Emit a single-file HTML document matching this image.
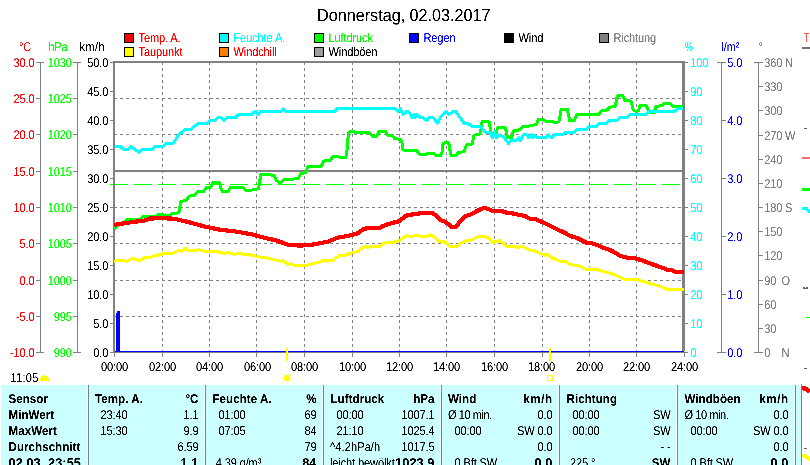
<!DOCTYPE html>
<html><head><meta charset="utf-8"><title>Wetter</title>
<style>
html,body{margin:0;padding:0;background:#fff;}
body{width:810px;height:465px;overflow:hidden;position:relative;}
svg{position:absolute;left:0;top:0;display:block;}
svg text{font-family:"Liberation Sans",sans-serif;}
</style></head><body>
<svg width="810" height="465" viewBox="0 0 810 465" shape-rendering="crispEdges" text-rendering="geometricPrecision">
<defs>
<clipPath id="plotclip"><rect x="114" y="63" width="570" height="288"/></clipPath>
<clipPath id="plotclip2"><rect x="114" y="63" width="570" height="288"/></clipPath>
<filter id="thr" filterUnits="userSpaceOnUse" x="0" y="0" width="810" height="465" color-interpolation-filters="sRGB"><feComponentTransfer><feFuncA type="linear" slope="2.5" intercept="-0.6"/></feComponentTransfer></filter>
</defs>
<rect x="0" y="0" width="810" height="465" fill="#ffffff"/>
<rect x="124" y="33" width="10" height="10" fill="#000" />
<rect x="125" y="34" width="8" height="8" fill="#ff0000" />
<rect x="124" y="47" width="10" height="10" fill="#000" />
<rect x="125" y="48" width="8" height="8" fill="#ffff00" />
<rect x="219" y="33" width="10" height="10" fill="#000" />
<rect x="220" y="34" width="8" height="8" fill="#00ffff" />
<rect x="219" y="47" width="10" height="10" fill="#000" />
<rect x="220" y="48" width="8" height="8" fill="#ff8000" />
<rect x="314" y="33" width="10" height="10" fill="#000" />
<rect x="315" y="34" width="8" height="8" fill="#00ff00" />
<rect x="314" y="47" width="10" height="10" fill="#000" />
<rect x="315" y="48" width="8" height="8" fill="#a09ca0" />
<rect x="409" y="33" width="10" height="10" fill="#000" />
<rect x="410" y="34" width="8" height="8" fill="#0000ff" />
<rect x="504" y="33" width="10" height="10" fill="#000" />
<rect x="505" y="34" width="8" height="8" fill="#000000" />
<rect x="599" y="33" width="10" height="10" fill="#000" />
<rect x="600" y="34" width="8" height="8" fill="#808080" />
<rect x="40" y="62" width="1" height="291" fill="#808080" />
<rect x="36" y="62" width="8" height="1" fill="#808080" />
<rect x="36" y="98" width="5" height="1" fill="#808080" />
<rect x="36" y="134" width="5" height="1" fill="#808080" />
<rect x="36" y="171" width="5" height="1" fill="#808080" />
<rect x="36" y="207" width="5" height="1" fill="#808080" />
<rect x="36" y="243" width="5" height="1" fill="#808080" />
<rect x="36" y="280" width="5" height="1" fill="#808080" />
<rect x="36" y="316" width="5" height="1" fill="#808080" />
<rect x="36" y="352" width="8" height="1" fill="#808080" />
<rect x="77" y="62" width="1" height="291" fill="#808080" />
<rect x="73" y="62" width="8" height="1" fill="#808080" />
<rect x="73" y="98" width="5" height="1" fill="#808080" />
<rect x="73" y="134" width="5" height="1" fill="#808080" />
<rect x="73" y="171" width="5" height="1" fill="#808080" />
<rect x="73" y="207" width="5" height="1" fill="#808080" />
<rect x="73" y="243" width="5" height="1" fill="#808080" />
<rect x="73" y="280" width="5" height="1" fill="#808080" />
<rect x="73" y="316" width="5" height="1" fill="#808080" />
<rect x="73" y="352" width="8" height="1" fill="#808080" />
<rect x="110" y="62" width="3" height="1" fill="#808080" />
<rect x="110" y="91" width="3" height="1" fill="#808080" />
<rect x="110" y="120" width="3" height="1" fill="#808080" />
<rect x="110" y="149" width="3" height="1" fill="#808080" />
<rect x="110" y="178" width="3" height="1" fill="#808080" />
<rect x="110" y="207" width="3" height="1" fill="#808080" />
<rect x="110" y="236" width="3" height="1" fill="#808080" />
<rect x="110" y="265" width="3" height="1" fill="#808080" />
<rect x="110" y="294" width="3" height="1" fill="#808080" />
<rect x="110" y="323" width="3" height="1" fill="#808080" />
<rect x="110" y="352" width="3" height="1" fill="#808080" />
<path d="M162.5,62 V351" stroke="#808080" stroke-width="1" stroke-dasharray="3,3" fill="none"/>
<path d="M209.5,62 V351" stroke="#808080" stroke-width="1" stroke-dasharray="3,3" fill="none"/>
<path d="M256.5,62 V351" stroke="#808080" stroke-width="1" stroke-dasharray="3,3" fill="none"/>
<path d="M304.5,62 V351" stroke="#808080" stroke-width="1" stroke-dasharray="3,3" fill="none"/>
<path d="M352.5,62 V351" stroke="#808080" stroke-width="1" stroke-dasharray="3,3" fill="none"/>
<path d="M399.5,62 V351" stroke="#808080" stroke-width="1" stroke-dasharray="3,3" fill="none"/>
<path d="M446.5,62 V351" stroke="#808080" stroke-width="1" stroke-dasharray="3,3" fill="none"/>
<path d="M494.5,62 V351" stroke="#808080" stroke-width="1" stroke-dasharray="3,3" fill="none"/>
<path d="M542.5,62 V351" stroke="#808080" stroke-width="1" stroke-dasharray="3,3" fill="none"/>
<path d="M589.5,62 V351" stroke="#808080" stroke-width="1" stroke-dasharray="3,3" fill="none"/>
<path d="M636.5,62 V351" stroke="#808080" stroke-width="1" stroke-dasharray="3,3" fill="none"/>
<path d="M115,98.5 H682" stroke="#808080" stroke-width="1" stroke-dasharray="3,3" stroke-dashoffset="1" fill="none"/>
<path d="M115,134.5 H682" stroke="#808080" stroke-width="1" stroke-dasharray="3,3" stroke-dashoffset="1" fill="none"/>
<path d="M115,207.5 H682" stroke="#808080" stroke-width="1" stroke-dasharray="3,3" stroke-dashoffset="1" fill="none"/>
<path d="M115,243.5 H682" stroke="#808080" stroke-width="1" stroke-dasharray="3,3" stroke-dashoffset="1" fill="none"/>
<path d="M115,280.5 H682" stroke="#808080" stroke-width="1" stroke-dasharray="3,3" stroke-dashoffset="1" fill="none"/>
<path d="M115,316.5 H682" stroke="#808080" stroke-width="1" stroke-dasharray="3,3" stroke-dashoffset="1" fill="none"/>
<rect x="115" y="170" width="567" height="2" fill="#808080" />
<path d="M110,184.5 H682" stroke="#00ff00" stroke-width="1" stroke-dasharray="18,6" fill="none"/>
<rect x="113" y="61" width="572" height="2" fill="#808080" />
<rect x="113" y="61" width="2" height="292" fill="#808080" />
<rect x="682" y="61" width="3" height="290" fill="#808080" />
<rect x="113" y="352" width="572" height="1" fill="#808080" />
<rect x="115" y="351" width="569" height="1" fill="#0000ff" />
<rect x="162" y="353" width="1" height="4" fill="#808080" />
<rect x="209" y="353" width="1" height="4" fill="#808080" />
<rect x="256" y="353" width="1" height="4" fill="#808080" />
<rect x="304" y="353" width="1" height="4" fill="#808080" />
<rect x="352" y="353" width="1" height="4" fill="#808080" />
<rect x="399" y="353" width="1" height="4" fill="#808080" />
<rect x="446" y="353" width="1" height="4" fill="#808080" />
<rect x="494" y="353" width="1" height="4" fill="#808080" />
<rect x="542" y="353" width="1" height="4" fill="#808080" />
<rect x="589" y="353" width="1" height="4" fill="#808080" />
<rect x="636" y="353" width="1" height="4" fill="#808080" />
<rect x="684" y="353" width="1" height="4" fill="#808080" />
<rect x="114" y="353" width="1" height="4" fill="#808080" />
<path d="M114.3,228.8 L117.7,226.2 L119.5,223.6 L124.6,221.9 L127.2,219.3 L140.1,219.0 L143.5,216.2 L155.6,216.2 L159.0,214.2 L162.4,214.2 L165.0,215.4 L170.2,215.4 L172.7,213.3 L178.8,212.9 L180.8,201.3 L186.5,200.4 L189.1,196.1 L194.2,195.6 L197.7,191.8 L203.7,191.3 L206.3,187.8 L210.6,187.2 L213.1,182.3 L219.2,182.3 L220.9,188.4 L222.6,191.8 L226.9,191.8 L228.4,191.3 L230.2,187.5 L242.2,187.2 L246.5,190.6 L250.8,190.6 L253.4,189.2 L258.5,188.9 L260.8,174.6 L266.3,174.1 L274.0,175.5 L276.6,180.6 L280.0,183.2 L284.3,179.3 L298.1,178.9 L300.6,173.8 L305.8,172.4 L307.7,166.7 L321.3,166.2 L323.9,161.0 L330.3,160.3 L332.9,156.8 L338.7,156.8 L340.6,157.7 L345.8,157.4 L347.1,149.7 L348.4,132.9 L349.7,131.6 L354.2,131.6 L355.5,132.5 L369.0,132.5 L372.3,136.1 L376.8,136.1 L379.4,131.0 L385.2,131.0 L387.7,135.2 L392.0,135.4 L394.7,138.7 L400.7,139.3 L402.0,142.7 L402.9,150.0 L416.7,150.3 L419.3,154.2 L426.0,154.2 L428.0,153.1 L433.3,153.3 L436.7,156.0 L440.7,155.8 L442.0,152.0 L442.7,144.7 L444.0,142.9 L448.3,142.9 L449.6,145.3 L450.3,154.0 L452.0,156.0 L456.0,155.8 L458.0,152.6 L464.0,151.7 L466.3,145.0 L472.3,143.9 L473.9,135.2 L479.7,134.1 L480.9,130.6 L481.7,122.4 L482.8,121.2 L487.9,121.2 L489.4,122.4 L490.2,128.6 L491.0,133.0 L496.8,133.0 L497.2,127.9 L498.3,127.0 L504.1,127.0 L505.7,128.6 L506.8,135.2 L508.4,137.9 L511.5,137.9 L512.6,132.9 L514.2,130.6 L518.4,130.2 L520.8,128.6 L522.8,126.9 L528.8,126.1 L531.8,125.4 L536.3,124.6 L538.6,119.4 L542.3,119.1 L545.4,121.2 L551.4,121.3 L554.4,122.4 L558.9,121.9 L561.2,109.6 L567.2,109.1 L569.8,120.9 L574.5,120.4 L576.8,114.9 L598.6,114.6 L601.6,110.6 L606.9,110.1 L609.9,107.1 L615.2,106.4 L617.4,95.8 L622.7,95.5 L625.0,100.3 L631.0,101.1 L633.3,110.1 L636.3,111.6 L638.5,110.9 L640.0,105.6 L646.1,105.3 L648.0,109.4 L649.8,112.4 L654.3,112.4 L655.8,106.4 L661.9,105.6 L664.9,103.3 L670.2,103.3 L673.2,106.8 L683.0,106.8" fill="none" stroke="#00ff00" stroke-width="3" stroke-linejoin="round" stroke-linecap="butt" clip-path="url(#plotclip)"/>
<path d="M114.3,228.8 L117.7,226.2 L119.5,223.6 L124.6,221.9 L127.2,219.3 L140.1,219.0 L143.5,216.2 L155.6,216.2 L159.0,214.2 L162.4,214.2 L165.0,215.4 L170.2,215.4 L172.7,213.3 L178.8,212.9 L180.8,201.3 L186.5,200.4 L189.1,196.1 L194.2,195.6 L197.7,191.8 L203.7,191.3 L206.3,187.8 L210.6,187.2 L213.1,182.3 L219.2,182.3 L220.9,188.4 L222.6,191.8 L226.9,191.8 L228.4,191.3 L230.2,187.5 L242.2,187.2 L246.5,190.6 L250.8,190.6 L253.4,189.2 L258.5,188.9 L260.8,174.6 L266.3,174.1 L274.0,175.5 L276.6,180.6 L280.0,183.2 L284.3,179.3 L298.1,178.9 L300.6,173.8 L305.8,172.4 L307.7,166.7 L321.3,166.2 L323.9,161.0 L330.3,160.3 L332.9,156.8 L338.7,156.8 L340.6,157.7 L345.8,157.4 L347.1,149.7 L348.4,132.9 L349.7,131.6 L354.2,131.6 L355.5,132.5 L369.0,132.5 L372.3,136.1 L376.8,136.1 L379.4,131.0 L385.2,131.0 L387.7,135.2 L392.0,135.4 L394.7,138.7 L400.7,139.3 L402.0,142.7 L402.9,150.0 L416.7,150.3 L419.3,154.2 L426.0,154.2 L428.0,153.1 L433.3,153.3 L436.7,156.0 L440.7,155.8 L442.0,152.0 L442.7,144.7 L444.0,142.9 L448.3,142.9 L449.6,145.3 L450.3,154.0 L452.0,156.0 L456.0,155.8 L458.0,152.6 L464.0,151.7 L466.3,145.0 L472.3,143.9 L473.9,135.2 L479.7,134.1 L480.9,130.6 L481.7,122.4 L482.8,121.2 L487.9,121.2 L489.4,122.4 L490.2,128.6 L491.0,133.0 L496.8,133.0 L497.2,127.9 L498.3,127.0 L504.1,127.0 L505.7,128.6 L506.8,135.2 L508.4,137.9 L511.5,137.9 L512.6,132.9 L514.2,130.6 L518.4,130.2 L520.8,128.6 L522.8,126.9 L528.8,126.1 L531.8,125.4 L536.3,124.6 L538.6,119.4 L542.3,119.1 L545.4,121.2 L551.4,121.3 L554.4,122.4 L558.9,121.9 L561.2,109.6 L567.2,109.1 L569.8,120.9 L574.5,120.4 L576.8,114.9 L598.6,114.6 L601.6,110.6 L606.9,110.1 L609.9,107.1 L615.2,106.4 L617.4,95.8 L622.7,95.5 L625.0,100.3 L631.0,101.1 L633.3,110.1 L636.3,111.6 L638.5,110.9 L640.0,105.6 L646.1,105.3 L648.0,109.4 L649.8,112.4 L654.3,112.4 L655.8,106.4 L661.9,105.6 L664.9,103.3 L670.2,103.3 L673.2,106.8 L683.0,106.8" fill="none" stroke="#00ff00" stroke-width="1.6" stroke-linejoin="round" stroke-linecap="butt" shape-rendering="geometricPrecision" clip-path="url(#plotclip)"/>
<path d="M114.5,146.5 L120.5,146.5 L123.5,149.4 L128.0,149.4 L131.0,146.5 L134.8,149.4 L139.4,152.3 L142.4,149.4 L152.2,149.4 L155.2,146.5 L162.7,146.5 L166.5,143.6 L173.3,143.6 L178.5,134.9 L186.0,129.1 L191.3,129.1 L198.1,123.3 L207.1,123.3 L210.2,120.4 L215.4,120.4 L218.4,117.5 L221.4,117.5 L223.7,120.4 L226.7,117.5 L235.5,117.5 L238.6,114.6 L251.4,114.6 L254.4,111.7 L255.9,111.7 L258.1,114.6 L261.1,111.7 L280.7,111.7 L283.4,108.8 L286.7,111.7 L334.2,111.7 L337.2,108.8 L395.0,108.8 L398.0,111.7 L400.2,108.8 L403.3,114.6 L406.3,111.7 L408.5,111.7 L412.3,117.5 L413.8,114.6 L415.3,117.5 L417.1,114.6 L420.6,117.5 L422.8,117.5 L426.6,120.4 L429.6,117.5 L433.4,117.5 L437.6,123.3 L440.2,117.5 L446.2,111.7 L449.2,114.6 L453.0,111.7 L456.0,111.7 L458.0,114.6 L464.0,123.3 L467.8,123.3 L471.6,126.2 L480.1,126.2 L482.8,129.1 L484.8,132.0 L489.8,132.0 L492.5,137.8 L494.4,132.0 L496.4,137.8 L499.5,134.9 L504.5,137.8 L508.4,143.6 L510.7,140.7 L516.1,140.7 L518.4,137.8 L520.4,140.7 L523.5,134.9 L526.5,134.9 L528.8,137.8 L530.8,134.9 L532.3,137.8 L533.8,134.9 L537.1,137.8 L545.4,137.8 L548.7,134.9 L551.4,137.8 L554.4,134.9 L562.7,134.9 L565.7,132.0 L574.5,132.0 L577.5,129.1 L586.6,129.1 L589.6,126.2 L596.4,126.2 L599.4,123.3 L606.1,123.3 L609.5,120.4 L616.7,120.4 L620.5,117.5 L627.2,117.5 L630.2,114.6 L646.1,114.6 L649.1,111.7 L673.9,111.7 L677.7,108.8 L683.0,108.8" fill="none" stroke="#00ffff" stroke-width="3" stroke-linejoin="round" stroke-linecap="butt" clip-path="url(#plotclip)"/>
<path d="M114.5,146.5 L120.5,146.5 L123.5,149.4 L128.0,149.4 L131.0,146.5 L134.8,149.4 L139.4,152.3 L142.4,149.4 L152.2,149.4 L155.2,146.5 L162.7,146.5 L166.5,143.6 L173.3,143.6 L178.5,134.9 L186.0,129.1 L191.3,129.1 L198.1,123.3 L207.1,123.3 L210.2,120.4 L215.4,120.4 L218.4,117.5 L221.4,117.5 L223.7,120.4 L226.7,117.5 L235.5,117.5 L238.6,114.6 L251.4,114.6 L254.4,111.7 L255.9,111.7 L258.1,114.6 L261.1,111.7 L280.7,111.7 L283.4,108.8 L286.7,111.7 L334.2,111.7 L337.2,108.8 L395.0,108.8 L398.0,111.7 L400.2,108.8 L403.3,114.6 L406.3,111.7 L408.5,111.7 L412.3,117.5 L413.8,114.6 L415.3,117.5 L417.1,114.6 L420.6,117.5 L422.8,117.5 L426.6,120.4 L429.6,117.5 L433.4,117.5 L437.6,123.3 L440.2,117.5 L446.2,111.7 L449.2,114.6 L453.0,111.7 L456.0,111.7 L458.0,114.6 L464.0,123.3 L467.8,123.3 L471.6,126.2 L480.1,126.2 L482.8,129.1 L484.8,132.0 L489.8,132.0 L492.5,137.8 L494.4,132.0 L496.4,137.8 L499.5,134.9 L504.5,137.8 L508.4,143.6 L510.7,140.7 L516.1,140.7 L518.4,137.8 L520.4,140.7 L523.5,134.9 L526.5,134.9 L528.8,137.8 L530.8,134.9 L532.3,137.8 L533.8,134.9 L537.1,137.8 L545.4,137.8 L548.7,134.9 L551.4,137.8 L554.4,134.9 L562.7,134.9 L565.7,132.0 L574.5,132.0 L577.5,129.1 L586.6,129.1 L589.6,126.2 L596.4,126.2 L599.4,123.3 L606.1,123.3 L609.5,120.4 L616.7,120.4 L620.5,117.5 L627.2,117.5 L630.2,114.6 L646.1,114.6 L649.1,111.7 L673.9,111.7 L677.7,108.8 L683.0,108.8" fill="none" stroke="#00ffff" stroke-width="1.6" stroke-linejoin="round" stroke-linecap="butt" shape-rendering="geometricPrecision" clip-path="url(#plotclip)"/>
<path d="M114.3,261.2 L120.4,260.3 L127.3,261.2 L132.5,258.2 L139.4,260.7 L146.3,257.2 L151.5,257.2 L154.9,255.5 L160.1,254.8 L165.3,253.0 L172.2,253.4 L179.1,250.3 L181.7,251.3 L185.2,248.2 L187.8,250.3 L194.7,250.8 L198.1,249.6 L203.3,250.8 L205.9,252.0 L210.2,251.0 L217.2,251.7 L224.1,253.4 L227.5,252.5 L234.4,254.3 L239.6,253.4 L245.0,254.6 L251.9,255.1 L258.8,256.8 L267.5,258.1 L276.1,260.3 L280.4,261.2 L283.0,260.3 L288.2,264.6 L290.8,263.4 L295.1,265.5 L305.5,265.5 L314.1,263.4 L321.0,261.7 L324.5,260.3 L327.1,261.2 L333.1,260.3 L338.3,256.0 L345.2,255.1 L350.4,253.4 L357.3,251.7 L364.3,246.5 L367.7,247.3 L372.9,246.5 L378.9,247.0 L383.3,243.4 L386.9,242.5 L393.0,242.5 L399.0,240.8 L405.9,235.6 L411.1,237.0 L416.3,235.1 L421.5,236.5 L425.8,236.5 L430.1,234.8 L433.6,236.5 L438.8,241.3 L444.8,242.0 L450.0,246.3 L456.0,246.8 L460.4,243.4 L465.6,240.8 L469.9,240.8 L478.5,236.5 L483.7,236.5 L488.9,238.2 L493.2,242.5 L499.3,240.3 L507.9,246.8 L513.1,246.5 L518.6,247.3 L522.1,246.1 L529.0,249.9 L535.9,251.3 L544.6,255.1 L547.2,254.3 L553.2,258.6 L561.8,261.7 L565.3,261.2 L570.5,264.6 L579.1,265.8 L586.0,269.3 L589.5,269.0 L593.0,269.8 L598.1,269.8 L605.1,272.1 L611.2,273.5 L618.2,276.3 L625.2,279.5 L637.8,279.8 L644.8,281.9 L651.7,284.0 L658.7,285.6 L667.1,289.3 L683.6,289.3" fill="none" stroke="#ffff00" stroke-width="3" stroke-linejoin="round" stroke-linecap="butt" clip-path="url(#plotclip)"/>
<path d="M114.3,261.2 L120.4,260.3 L127.3,261.2 L132.5,258.2 L139.4,260.7 L146.3,257.2 L151.5,257.2 L154.9,255.5 L160.1,254.8 L165.3,253.0 L172.2,253.4 L179.1,250.3 L181.7,251.3 L185.2,248.2 L187.8,250.3 L194.7,250.8 L198.1,249.6 L203.3,250.8 L205.9,252.0 L210.2,251.0 L217.2,251.7 L224.1,253.4 L227.5,252.5 L234.4,254.3 L239.6,253.4 L245.0,254.6 L251.9,255.1 L258.8,256.8 L267.5,258.1 L276.1,260.3 L280.4,261.2 L283.0,260.3 L288.2,264.6 L290.8,263.4 L295.1,265.5 L305.5,265.5 L314.1,263.4 L321.0,261.7 L324.5,260.3 L327.1,261.2 L333.1,260.3 L338.3,256.0 L345.2,255.1 L350.4,253.4 L357.3,251.7 L364.3,246.5 L367.7,247.3 L372.9,246.5 L378.9,247.0 L383.3,243.4 L386.9,242.5 L393.0,242.5 L399.0,240.8 L405.9,235.6 L411.1,237.0 L416.3,235.1 L421.5,236.5 L425.8,236.5 L430.1,234.8 L433.6,236.5 L438.8,241.3 L444.8,242.0 L450.0,246.3 L456.0,246.8 L460.4,243.4 L465.6,240.8 L469.9,240.8 L478.5,236.5 L483.7,236.5 L488.9,238.2 L493.2,242.5 L499.3,240.3 L507.9,246.8 L513.1,246.5 L518.6,247.3 L522.1,246.1 L529.0,249.9 L535.9,251.3 L544.6,255.1 L547.2,254.3 L553.2,258.6 L561.8,261.7 L565.3,261.2 L570.5,264.6 L579.1,265.8 L586.0,269.3 L589.5,269.0 L593.0,269.8 L598.1,269.8 L605.1,272.1 L611.2,273.5 L618.2,276.3 L625.2,279.5 L637.8,279.8 L644.8,281.9 L651.7,284.0 L658.7,285.6 L667.1,289.3 L683.6,289.3" fill="none" stroke="#ffff00" stroke-width="1.6" stroke-linejoin="round" stroke-linecap="butt" shape-rendering="geometricPrecision" clip-path="url(#plotclip)"/>
<path d="M114.3,224.9 L120.3,223.9 L130.7,222.3 L144.6,220.6 L149.7,218.5 L161.6,218.2 L173.9,218.7 L187.8,221.9 L205.0,226.6 L218.9,229.5 L237.9,231.8 L251.9,234.4 L262.3,237.3 L276.1,240.4 L288.2,244.8 L300.3,245.6 L314.1,244.4 L328.0,241.6 L338.3,237.5 L348.7,235.8 L357.3,233.5 L364.3,228.7 L372.9,227.8 L378.9,228.3 L382.4,226.3 L388.6,223.9 L399.0,221.3 L405.9,215.7 L414.6,214.0 L424.9,212.8 L432.7,212.8 L440.5,220.1 L445.7,222.1 L451.7,227.0 L456.0,227.0 L460.4,220.9 L464.7,216.6 L471.6,214.0 L478.5,210.2 L483.7,208.0 L488.0,208.8 L492.3,210.9 L500.1,210.6 L506.2,212.6 L513.1,213.5 L525.6,216.2 L529.9,218.8 L535.9,219.2 L544.6,223.1 L553.2,227.5 L563.6,232.3 L570.5,236.1 L576.5,237.8 L586.0,242.5 L591.2,243.0 L599.0,245.6 L603.3,247.9 L610.2,249.9 L620.6,256.0 L627.5,257.7 L634.4,258.2 L643.1,260.7 L649.0,263.0 L655.9,265.5 L662.9,267.9 L667.1,269.7 L671.3,270.0 L675.5,272.1 L683.6,272.3" fill="none" stroke="#ff0000" stroke-width="4.2" stroke-linejoin="round" stroke-linecap="butt" clip-path="url(#plotclip2)"/>
<path d="M114.3,224.9 L120.3,223.9 L130.7,222.3 L144.6,220.6 L149.7,218.5 L161.6,218.2 L173.9,218.7 L187.8,221.9 L205.0,226.6 L218.9,229.5 L237.9,231.8 L251.9,234.4 L262.3,237.3 L276.1,240.4 L288.2,244.8 L300.3,245.6 L314.1,244.4 L328.0,241.6 L338.3,237.5 L348.7,235.8 L357.3,233.5 L364.3,228.7 L372.9,227.8 L378.9,228.3 L382.4,226.3 L388.6,223.9 L399.0,221.3 L405.9,215.7 L414.6,214.0 L424.9,212.8 L432.7,212.8 L440.5,220.1 L445.7,222.1 L451.7,227.0 L456.0,227.0 L460.4,220.9 L464.7,216.6 L471.6,214.0 L478.5,210.2 L483.7,208.0 L488.0,208.8 L492.3,210.9 L500.1,210.6 L506.2,212.6 L513.1,213.5 L525.6,216.2 L529.9,218.8 L535.9,219.2 L544.6,223.1 L553.2,227.5 L563.6,232.3 L570.5,236.1 L576.5,237.8 L586.0,242.5 L591.2,243.0 L599.0,245.6 L603.3,247.9 L610.2,249.9 L620.6,256.0 L627.5,257.7 L634.4,258.2 L643.1,260.7 L649.0,263.0 L655.9,265.5 L662.9,267.9 L667.1,269.7 L671.3,270.0 L675.5,272.1 L683.6,272.3" fill="none" stroke="#ff0000" stroke-width="2.8" stroke-linejoin="round" stroke-linecap="butt" shape-rendering="geometricPrecision" clip-path="url(#plotclip2)"/>
<rect x="116" y="313" width="1" height="39" fill="#0000ff" />
<rect x="117" y="311" width="3" height="41" fill="#0000ff" />
<rect x="685" y="62" width="3" height="1" fill="#808080" />
<rect x="685" y="91" width="3" height="1" fill="#808080" />
<rect x="685" y="120" width="3" height="1" fill="#808080" />
<rect x="685" y="149" width="3" height="1" fill="#808080" />
<rect x="685" y="178" width="3" height="1" fill="#808080" />
<rect x="685" y="207" width="3" height="1" fill="#808080" />
<rect x="685" y="236" width="3" height="1" fill="#808080" />
<rect x="685" y="265" width="3" height="1" fill="#808080" />
<rect x="685" y="294" width="3" height="1" fill="#808080" />
<rect x="685" y="323" width="3" height="1" fill="#808080" />
<rect x="685" y="352" width="3" height="1" fill="#808080" />
<rect x="721" y="62" width="1" height="291" fill="#808080" />
<rect x="717" y="62" width="9" height="1" fill="#808080" />
<rect x="721" y="120" width="5" height="1" fill="#808080" />
<rect x="721" y="178" width="5" height="1" fill="#808080" />
<rect x="721" y="236" width="5" height="1" fill="#808080" />
<rect x="721" y="294" width="5" height="1" fill="#808080" />
<rect x="717" y="352" width="9" height="1" fill="#808080" />
<rect x="758" y="62" width="1" height="291" fill="#808080" />
<rect x="754" y="62" width="9" height="1" fill="#808080" />
<rect x="758" y="86" width="5" height="1" fill="#808080" />
<rect x="758" y="110" width="5" height="1" fill="#808080" />
<rect x="758" y="135" width="5" height="1" fill="#808080" />
<rect x="758" y="159" width="5" height="1" fill="#808080" />
<rect x="758" y="183" width="5" height="1" fill="#808080" />
<rect x="758" y="207" width="5" height="1" fill="#808080" />
<rect x="758" y="231" width="5" height="1" fill="#808080" />
<rect x="758" y="255" width="5" height="1" fill="#808080" />
<rect x="758" y="280" width="5" height="1" fill="#808080" />
<rect x="758" y="304" width="5" height="1" fill="#808080" />
<rect x="758" y="328" width="5" height="1" fill="#808080" />
<rect x="754" y="352" width="9" height="1" fill="#808080" />
<rect x="43" y="375" width="3" height="1" fill="#ffff00" />
<rect x="41" y="376" width="7" height="2" fill="#ffff00" />
<rect x="40" y="378" width="9" height="3" fill="#ffff00" />
<rect x="42" y="379" width="1" height="1" fill="#ffd800" />
<rect x="45" y="378" width="1" height="1" fill="#ffd800" />
<rect x="286" y="348" width="2" height="13" fill="#ffff00" />
<g stroke="#ffff90" stroke-width="1" fill="none"><path d="M282,373 L292,383 M292,373 L282,383 M287,372 V384 M281,378 H293"/></g>
<rect x="285" y="375" width="4" height="6" fill="#ffff00" />
<rect x="284" y="376" width="6" height="4" fill="#ffff00" />
<rect x="549" y="348" width="2" height="13" fill="#ffff00" />
<rect x="547.5" y="375.5" width="5" height="5" fill="none" stroke="#ffff00" stroke-width="1"/>
<rect x="1" y="385" width="800" height="80" fill="#ccffff" />
<rect x="87" y="385" width="1" height="81" fill="#f2ffff" />
<rect x="88" y="385" width="1" height="81" fill="#808080" />
<rect x="204" y="385" width="1" height="81" fill="#f2ffff" />
<rect x="205" y="385" width="1" height="81" fill="#808080" />
<rect x="322" y="385" width="1" height="81" fill="#f2ffff" />
<rect x="323" y="385" width="1" height="81" fill="#808080" />
<rect x="440" y="385" width="1" height="81" fill="#f2ffff" />
<rect x="441" y="385" width="1" height="81" fill="#808080" />
<rect x="558" y="385" width="1" height="81" fill="#f2ffff" />
<rect x="559" y="385" width="1" height="81" fill="#808080" />
<rect x="676" y="385" width="1" height="81" fill="#f2ffff" />
<rect x="677" y="385" width="1" height="81" fill="#808080" />
<rect x="794" y="385" width="1" height="81" fill="#f2ffff" />
<rect x="795" y="385" width="1" height="81" fill="#808080" />
<rect x="802" y="47" width="8" height="2" fill="#707070" />
<rect x="804" y="128" width="3" height="1" fill="#606060" />
<rect x="802" y="157" width="8" height="2" fill="#ff6e6e" />
<rect x="802" y="188" width="8" height="3" fill="#00ff00" />
<path d="M802,208.5 H806.5 L810,212.5" stroke="#00ffff" stroke-width="3" fill="none"/>
<rect x="803" y="287" width="2" height="2" fill="#606060" />
<rect x="806" y="287" width="2" height="2" fill="#606060" />
<rect x="805" y="288" width="1" height="1" fill="#606060" />
<rect x="806" y="317" width="5" height="1" fill="#00ff00" />
<rect x="804" y="368" width="3" height="1" fill="#606060" />
<rect x="801" y="384" width="1" height="82" fill="#808080" />
<path d="M802,388.2 L805.5,388.5 L810,391.8" stroke="#ff0000" stroke-width="4.4" fill="none"/>
<rect x="804" y="448" width="3" height="1" fill="#606060" />
<path d="M802,454.8 L805,456 L807,457.5 L810,459.5" stroke="#ffff00" stroke-width="3.5" fill="none"/>
<g filter="url(#thr)">
<text transform="translate(403.8,21) scale(0.93,1)" fill="#000" text-anchor="middle" font-size="17.4" letter-spacing="0.000" >Donnerstag, 02.03.2017</text>
<text transform="translate(138.5,42) scale(0.87,1)" fill="#ff0000" text-anchor="start" font-size="12.7" letter-spacing="-0.138" >Temp. A.</text>
<text transform="translate(138.5,56) scale(0.87,1)" fill="#ff0000" text-anchor="start" font-size="12.7" letter-spacing="-0.138" >Taupunkt</text>
<text transform="translate(233.5,42) scale(0.87,1)" fill="#00ffff" text-anchor="start" font-size="12.7" letter-spacing="-0.138" >Feuchte A.</text>
<text transform="translate(233.5,56) scale(0.87,1)" fill="#ff0000" text-anchor="start" font-size="12.7" letter-spacing="-0.138" >Windchill</text>
<text transform="translate(328.5,42) scale(0.87,1)" fill="#00ff00" text-anchor="start" font-size="12.7" letter-spacing="-0.138" >Luftdruck</text>
<text transform="translate(328.5,56) scale(0.87,1)" fill="#000000" text-anchor="start" font-size="12.7" letter-spacing="-0.138" >Windböen</text>
<text transform="translate(423.5,42) scale(0.87,1)" fill="#0000ff" text-anchor="start" font-size="12.7" letter-spacing="-0.138" >Regen</text>
<text transform="translate(518.5,42) scale(0.87,1)" fill="#000000" text-anchor="start" font-size="12.7" letter-spacing="-0.138" >Wind</text>
<text transform="translate(613.5,42) scale(0.87,1)" fill="#808080" text-anchor="start" font-size="12.7" letter-spacing="-0.138" >Richtung</text>
<text transform="translate(19,51) scale(0.87,1)" fill="#ff0000" text-anchor="start" font-size="12.7" letter-spacing="-0.138" >°C</text>
<text transform="translate(48.3,51) scale(0.87,1)" fill="#00ff00" text-anchor="start" font-size="12.7" letter-spacing="-0.138" >hPa</text>
<text transform="translate(79.5,51) scale(0.87,1)" fill="#000" text-anchor="start" font-size="12.7" letter-spacing="0.460" >km/h</text>
<text transform="translate(685,51) scale(0.7,1)" fill="#00ffff" text-anchor="start" font-size="12.7" letter-spacing="-0.171" >%</text>
<text transform="translate(721.5,51) scale(0.87,1)" fill="#0000ff" text-anchor="start" font-size="12.7" letter-spacing="-0.138" >l/m²</text>
<text transform="translate(758.5,51) scale(0.87,1)" fill="#808080" text-anchor="start" font-size="12.7" letter-spacing="-0.138" >°</text>
<text transform="translate(34.4,67) scale(0.87,1)" fill="#ff0000" text-anchor="end" font-size="12.7" letter-spacing="-0.161" >30.0</text>
<text transform="translate(34.4,103) scale(0.87,1)" fill="#ff0000" text-anchor="end" font-size="12.7" letter-spacing="-0.161" >25.0</text>
<text transform="translate(34.4,139) scale(0.87,1)" fill="#ff0000" text-anchor="end" font-size="12.7" letter-spacing="-0.161" >20.0</text>
<text transform="translate(34.4,176) scale(0.87,1)" fill="#ff0000" text-anchor="end" font-size="12.7" letter-spacing="-0.161" >15.0</text>
<text transform="translate(34.4,212) scale(0.87,1)" fill="#ff0000" text-anchor="end" font-size="12.7" letter-spacing="-0.161" >10.0</text>
<text transform="translate(34.4,248) scale(0.87,1)" fill="#ff0000" text-anchor="end" font-size="12.7" letter-spacing="-0.161" >5.0</text>
<text transform="translate(34.4,285) scale(0.87,1)" fill="#ff0000" text-anchor="end" font-size="12.7" letter-spacing="-0.161" >0.0</text>
<text transform="translate(34.4,321) scale(0.87,1)" fill="#ff0000" text-anchor="end" font-size="12.7" letter-spacing="-0.161" >-5.0</text>
<text transform="translate(34.4,357) scale(0.87,1)" fill="#ff0000" text-anchor="end" font-size="12.7" letter-spacing="-0.161" >-10.0</text>
<text transform="translate(71.7,67) scale(0.87,1)" fill="#00ff00" text-anchor="end" font-size="12.7" letter-spacing="-0.161" >1030</text>
<text transform="translate(71.7,103) scale(0.87,1)" fill="#00ff00" text-anchor="end" font-size="12.7" letter-spacing="-0.161" >1025</text>
<text transform="translate(71.7,139) scale(0.87,1)" fill="#00ff00" text-anchor="end" font-size="12.7" letter-spacing="-0.161" >1020</text>
<text transform="translate(71.7,176) scale(0.87,1)" fill="#00ff00" text-anchor="end" font-size="12.7" letter-spacing="-0.161" >1015</text>
<text transform="translate(71.7,212) scale(0.87,1)" fill="#00ff00" text-anchor="end" font-size="12.7" letter-spacing="-0.161" >1010</text>
<text transform="translate(71.7,248) scale(0.87,1)" fill="#00ff00" text-anchor="end" font-size="12.7" letter-spacing="-0.161" >1005</text>
<text transform="translate(71.7,285) scale(0.87,1)" fill="#00ff00" text-anchor="end" font-size="12.7" letter-spacing="-0.161" >1000</text>
<text transform="translate(71.7,321) scale(0.87,1)" fill="#00ff00" text-anchor="end" font-size="12.7" letter-spacing="-0.161" >995</text>
<text transform="translate(71.7,357) scale(0.87,1)" fill="#00ff00" text-anchor="end" font-size="12.7" letter-spacing="-0.161" >990</text>
<text transform="translate(108.2,67) scale(0.87,1)" fill="#000" text-anchor="end" font-size="12.7" letter-spacing="-0.161" >50.0</text>
<text transform="translate(108.2,96) scale(0.87,1)" fill="#000" text-anchor="end" font-size="12.7" letter-spacing="-0.161" >45.0</text>
<text transform="translate(108.2,125) scale(0.87,1)" fill="#000" text-anchor="end" font-size="12.7" letter-spacing="-0.161" >40.0</text>
<text transform="translate(108.2,154) scale(0.87,1)" fill="#000" text-anchor="end" font-size="12.7" letter-spacing="-0.161" >35.0</text>
<text transform="translate(108.2,183) scale(0.87,1)" fill="#000" text-anchor="end" font-size="12.7" letter-spacing="-0.161" >30.0</text>
<text transform="translate(108.2,212) scale(0.87,1)" fill="#000" text-anchor="end" font-size="12.7" letter-spacing="-0.161" >25.0</text>
<text transform="translate(108.2,241) scale(0.87,1)" fill="#000" text-anchor="end" font-size="12.7" letter-spacing="-0.161" >20.0</text>
<text transform="translate(108.2,270) scale(0.87,1)" fill="#000" text-anchor="end" font-size="12.7" letter-spacing="-0.161" >15.0</text>
<text transform="translate(108.2,299) scale(0.87,1)" fill="#000" text-anchor="end" font-size="12.7" letter-spacing="-0.161" >10.0</text>
<text transform="translate(108.2,328) scale(0.87,1)" fill="#000" text-anchor="end" font-size="12.7" letter-spacing="-0.161" >5.0</text>
<text transform="translate(108.2,357) scale(0.87,1)" fill="#000" text-anchor="end" font-size="12.7" letter-spacing="-0.161" >0.0</text>
<text transform="translate(690.3,67) scale(0.87,1)" fill="#00ffff" text-anchor="start" font-size="12.7" letter-spacing="-0.161" >100</text>
<text transform="translate(690.3,96) scale(0.87,1)" fill="#00ffff" text-anchor="start" font-size="12.7" letter-spacing="-0.161" >90</text>
<text transform="translate(690.3,125) scale(0.87,1)" fill="#00ffff" text-anchor="start" font-size="12.7" letter-spacing="-0.161" >80</text>
<text transform="translate(690.3,154) scale(0.87,1)" fill="#00ffff" text-anchor="start" font-size="12.7" letter-spacing="-0.161" >70</text>
<text transform="translate(690.3,183) scale(0.87,1)" fill="#00ffff" text-anchor="start" font-size="12.7" letter-spacing="-0.161" >60</text>
<text transform="translate(690.3,212) scale(0.87,1)" fill="#00ffff" text-anchor="start" font-size="12.7" letter-spacing="-0.161" >50</text>
<text transform="translate(690.3,241) scale(0.87,1)" fill="#00ffff" text-anchor="start" font-size="12.7" letter-spacing="-0.161" >40</text>
<text transform="translate(690.3,270) scale(0.87,1)" fill="#00ffff" text-anchor="start" font-size="12.7" letter-spacing="-0.161" >30</text>
<text transform="translate(690.3,299) scale(0.87,1)" fill="#00ffff" text-anchor="start" font-size="12.7" letter-spacing="-0.161" >20</text>
<text transform="translate(690.3,328) scale(0.87,1)" fill="#00ffff" text-anchor="start" font-size="12.7" letter-spacing="-0.161" >10</text>
<text transform="translate(690.3,357) scale(0.87,1)" fill="#00ffff" text-anchor="start" font-size="12.7" letter-spacing="-0.161" >0</text>
<text transform="translate(727.3,67) scale(0.87,1)" fill="#0000ff" text-anchor="start" font-size="12.7" letter-spacing="-0.161" >5.0</text>
<text transform="translate(727.3,125) scale(0.87,1)" fill="#0000ff" text-anchor="start" font-size="12.7" letter-spacing="-0.161" >4.0</text>
<text transform="translate(727.3,183) scale(0.87,1)" fill="#0000ff" text-anchor="start" font-size="12.7" letter-spacing="-0.161" >3.0</text>
<text transform="translate(727.3,241) scale(0.87,1)" fill="#0000ff" text-anchor="start" font-size="12.7" letter-spacing="-0.161" >2.0</text>
<text transform="translate(727.3,299) scale(0.87,1)" fill="#0000ff" text-anchor="start" font-size="12.7" letter-spacing="-0.161" >1.0</text>
<text transform="translate(727.3,357) scale(0.87,1)" fill="#0000ff" text-anchor="start" font-size="12.7" letter-spacing="-0.161" >0.0</text>
<text transform="translate(764.3,67) scale(0.87,1)" fill="#808080" text-anchor="start" font-size="12.7" letter-spacing="-0.161" >360</text>
<text transform="translate(785.0,67) scale(0.87,1)" fill="#808080" text-anchor="start" font-size="12.7" letter-spacing="-0.138" >N</text>
<text transform="translate(764.3,91) scale(0.87,1)" fill="#808080" text-anchor="start" font-size="12.7" letter-spacing="-0.161" >330</text>
<text transform="translate(764.3,115) scale(0.87,1)" fill="#808080" text-anchor="start" font-size="12.7" letter-spacing="-0.161" >300</text>
<text transform="translate(764.3,140) scale(0.87,1)" fill="#808080" text-anchor="start" font-size="12.7" letter-spacing="-0.161" >270</text>
<text transform="translate(785.0,140) scale(0.87,1)" fill="#808080" text-anchor="start" font-size="12.7" letter-spacing="-0.138" >W</text>
<text transform="translate(764.3,164) scale(0.87,1)" fill="#808080" text-anchor="start" font-size="12.7" letter-spacing="-0.161" >240</text>
<text transform="translate(764.3,188) scale(0.87,1)" fill="#808080" text-anchor="start" font-size="12.7" letter-spacing="-0.161" >210</text>
<text transform="translate(764.3,212) scale(0.87,1)" fill="#808080" text-anchor="start" font-size="12.7" letter-spacing="-0.161" >180</text>
<text transform="translate(785.0,212) scale(0.87,1)" fill="#808080" text-anchor="start" font-size="12.7" letter-spacing="-0.138" >S</text>
<text transform="translate(764.3,236) scale(0.87,1)" fill="#808080" text-anchor="start" font-size="12.7" letter-spacing="-0.161" >150</text>
<text transform="translate(764.3,260) scale(0.87,1)" fill="#808080" text-anchor="start" font-size="12.7" letter-spacing="-0.161" >120</text>
<text transform="translate(764.3,285) scale(0.87,1)" fill="#808080" text-anchor="start" font-size="12.7" letter-spacing="-0.161" >90</text>
<text transform="translate(781.5,285) scale(0.87,1)" fill="#808080" text-anchor="start" font-size="12.7" letter-spacing="-0.138" >O</text>
<text transform="translate(764.3,309) scale(0.87,1)" fill="#808080" text-anchor="start" font-size="12.7" letter-spacing="-0.161" >60</text>
<text transform="translate(764.3,333) scale(0.87,1)" fill="#808080" text-anchor="start" font-size="12.7" letter-spacing="-0.161" >30</text>
<text transform="translate(764.3,357) scale(0.87,1)" fill="#808080" text-anchor="start" font-size="12.7" letter-spacing="-0.161" >0</text>
<text transform="translate(781.5,357) scale(0.87,1)" fill="#808080" text-anchor="start" font-size="12.7" letter-spacing="-0.138" >N</text>
<text transform="translate(114.5,371) scale(0.87,1)" fill="#000" text-anchor="middle" font-size="12.7" letter-spacing="-0.161" >00:00</text>
<text transform="translate(162.5,371) scale(0.87,1)" fill="#000" text-anchor="middle" font-size="12.7" letter-spacing="-0.161" >02:00</text>
<text transform="translate(209.5,371) scale(0.87,1)" fill="#000" text-anchor="middle" font-size="12.7" letter-spacing="-0.161" >04:00</text>
<text transform="translate(257.5,371) scale(0.87,1)" fill="#000" text-anchor="middle" font-size="12.7" letter-spacing="-0.161" >06:00</text>
<text transform="translate(304.5,371) scale(0.87,1)" fill="#000" text-anchor="middle" font-size="12.7" letter-spacing="-0.161" >08:00</text>
<text transform="translate(352.5,371) scale(0.87,1)" fill="#000" text-anchor="middle" font-size="12.7" letter-spacing="-0.161" >10:00</text>
<text transform="translate(399.5,371) scale(0.87,1)" fill="#000" text-anchor="middle" font-size="12.7" letter-spacing="-0.161" >12:00</text>
<text transform="translate(446.5,371) scale(0.87,1)" fill="#000" text-anchor="middle" font-size="12.7" letter-spacing="-0.161" >14:00</text>
<text transform="translate(494.5,371) scale(0.87,1)" fill="#000" text-anchor="middle" font-size="12.7" letter-spacing="-0.161" >16:00</text>
<text transform="translate(541.5,371) scale(0.87,1)" fill="#000" text-anchor="middle" font-size="12.7" letter-spacing="-0.161" >18:00</text>
<text transform="translate(589.5,371) scale(0.87,1)" fill="#000" text-anchor="middle" font-size="12.7" letter-spacing="-0.161" >20:00</text>
<text transform="translate(636.5,371) scale(0.87,1)" fill="#000" text-anchor="middle" font-size="12.7" letter-spacing="-0.161" >22:00</text>
<text transform="translate(684.5,371) scale(0.87,1)" fill="#000" text-anchor="middle" font-size="12.7" letter-spacing="-0.161" >24:00</text>
<text transform="translate(10.5,382) scale(0.87,1)" fill="#000" text-anchor="start" font-size="12.7" letter-spacing="0.287" >11:05</text>
<text transform="translate(8.5,403) scale(0.91,1)" fill="#000" text-anchor="start" font-size="12.7" font-weight="bold" letter-spacing="0.066" >Sensor</text>
<text transform="translate(8.5,419) scale(0.91,1)" fill="#000" text-anchor="start" font-size="12.7" font-weight="bold" letter-spacing="0.066" >MinWert</text>
<text transform="translate(8.5,435) scale(0.91,1)" fill="#000" text-anchor="start" font-size="12.7" font-weight="bold" letter-spacing="0.066" >MaxWert</text>
<text transform="translate(8.5,451) scale(0.91,1)" fill="#000" text-anchor="start" font-size="12.7" font-weight="bold" letter-spacing="0.066" >Durchschnitt</text>
<text transform="translate(8.5,467) scale(1.0,1)" fill="#000" text-anchor="start" font-size="12.7" font-weight="bold" letter-spacing="0.100" >02.03. 23:55</text>
<text transform="translate(95,403) scale(0.91,1)" fill="#000" text-anchor="start" font-size="12.7" font-weight="bold" letter-spacing="0.066" >Temp. A.</text>
<text transform="translate(198.5,403) scale(0.91,1)" fill="#000" text-anchor="end" font-size="12.7" font-weight="bold" letter-spacing="0.066" >°C</text>
<text transform="translate(100.5,419) scale(0.87,1)" fill="#000" text-anchor="start" font-size="12.7" letter-spacing="-0.161" >23:40</text>
<text transform="translate(198.5,419) scale(0.87,1)" fill="#000" text-anchor="end" font-size="12.7" letter-spacing="-0.161" >1.1</text>
<text transform="translate(100.5,435) scale(0.87,1)" fill="#000" text-anchor="start" font-size="12.7" letter-spacing="-0.161" >15:30</text>
<text transform="translate(198.5,435) scale(0.87,1)" fill="#000" text-anchor="end" font-size="12.7" letter-spacing="-0.161" >9.9</text>
<text transform="translate(198.5,451) scale(0.87,1)" fill="#000" text-anchor="end" font-size="12.7" letter-spacing="-0.161" >6.59</text>
<text transform="translate(198.5,467) scale(1.0,1)" fill="#000" text-anchor="end" font-size="12.7" font-weight="bold" letter-spacing="0.100" >1.1</text>
<text transform="translate(212.5,403) scale(0.91,1)" fill="#000" text-anchor="start" font-size="12.7" font-weight="bold" letter-spacing="0.066" >Feuchte A.</text>
<text transform="translate(316.5,403) scale(0.91,1)" fill="#000" text-anchor="end" font-size="12.7" font-weight="bold" letter-spacing="0.066" >%</text>
<text transform="translate(218.5,419) scale(0.87,1)" fill="#000" text-anchor="start" font-size="12.7" letter-spacing="-0.161" >01:00</text>
<text transform="translate(316.5,419) scale(0.87,1)" fill="#000" text-anchor="end" font-size="12.7" letter-spacing="-0.161" >69</text>
<text transform="translate(218.5,435) scale(0.87,1)" fill="#000" text-anchor="start" font-size="12.7" letter-spacing="-0.161" >07:05</text>
<text transform="translate(316.5,435) scale(0.87,1)" fill="#000" text-anchor="end" font-size="12.7" letter-spacing="-0.161" >84</text>
<text transform="translate(316.5,451) scale(0.87,1)" fill="#000" text-anchor="end" font-size="12.7" letter-spacing="-0.161" >79</text>
<text transform="translate(215.7,467) scale(0.87,1)" fill="#000" text-anchor="start" font-size="12.7" letter-spacing="-0.138" >4.39 g/m³</text>
<text transform="translate(316.5,467) scale(1.0,1)" fill="#000" text-anchor="end" font-size="12.7" font-weight="bold" letter-spacing="0.100" >84</text>
<text transform="translate(330.5,403) scale(0.91,1)" fill="#000" text-anchor="start" font-size="12.7" font-weight="bold" letter-spacing="0.066" >Luftdruck</text>
<text transform="translate(434.5,403) scale(0.91,1)" fill="#000" text-anchor="end" font-size="12.7" font-weight="bold" letter-spacing="0.066" >hPa</text>
<text transform="translate(336.5,419) scale(0.87,1)" fill="#000" text-anchor="start" font-size="12.7" letter-spacing="-0.161" >00:00</text>
<text transform="translate(434.5,419) scale(0.87,1)" fill="#000" text-anchor="end" font-size="12.7" letter-spacing="-0.161" >1007.1</text>
<text transform="translate(336.5,435) scale(0.87,1)" fill="#000" text-anchor="start" font-size="12.7" letter-spacing="-0.161" >21:10</text>
<text transform="translate(434.5,435) scale(0.87,1)" fill="#000" text-anchor="end" font-size="12.7" letter-spacing="-0.161" >1025.4</text>
<text transform="translate(330,451) scale(0.87,1)" fill="#000" text-anchor="start" font-size="12.7" letter-spacing="0.115" >^4.2hPa/h</text>
<text transform="translate(434.5,451) scale(0.87,1)" fill="#000" text-anchor="end" font-size="12.7" letter-spacing="-0.161" >1017.5</text>
<text transform="translate(330,467) scale(0.87,1)" fill="#000" text-anchor="start" font-size="12.7" letter-spacing="-0.138" >leicht bewölkt</text>
<text transform="translate(434.5,467) scale(1.0,1)" fill="#000" text-anchor="end" font-size="12.7" font-weight="bold" letter-spacing="0.100" >1023.9</text>
<text transform="translate(448,403) scale(0.91,1)" fill="#000" text-anchor="start" font-size="12.7" font-weight="bold" letter-spacing="0.066" >Wind</text>
<text transform="translate(552.5,403) scale(0.91,1)" fill="#000" text-anchor="end" font-size="12.7" font-weight="bold" letter-spacing="0.604" >km/h</text>
<text transform="translate(448,419) scale(0.87,1)" fill="#000" text-anchor="start" font-size="12.7" letter-spacing="-0.517" >Ø 10 min.</text>
<text transform="translate(552.5,419) scale(0.87,1)" fill="#000" text-anchor="end" font-size="12.7" letter-spacing="-0.161" >0.0</text>
<text transform="translate(454.5,435) scale(0.87,1)" fill="#000" text-anchor="start" font-size="12.7" letter-spacing="-0.161" >00:00</text>
<text transform="translate(552.5,435) scale(0.87,1)" fill="#000" text-anchor="end" font-size="12.7" letter-spacing="-0.138" >SW 0.0</text>
<text transform="translate(552.5,451) scale(0.87,1)" fill="#000" text-anchor="end" font-size="12.7" letter-spacing="-0.161" >0.0</text>
<text transform="translate(454.5,467) scale(0.87,1)" fill="#000" text-anchor="start" font-size="12.7" letter-spacing="-0.138" >0 Bft SW</text>
<text transform="translate(552.5,467) scale(1.0,1)" fill="#000" text-anchor="end" font-size="12.7" font-weight="bold" letter-spacing="0.100" >0.0</text>
<text transform="translate(566.5,403) scale(0.91,1)" fill="#000" text-anchor="start" font-size="12.7" font-weight="bold" letter-spacing="0.066" >Richtung</text>
<text transform="translate(572.5,419) scale(0.87,1)" fill="#000" text-anchor="start" font-size="12.7" letter-spacing="-0.161" >00:00</text>
<text transform="translate(670.5,419) scale(0.87,1)" fill="#000" text-anchor="end" font-size="12.7" letter-spacing="-0.138" >SW</text>
<text transform="translate(572.5,435) scale(0.87,1)" fill="#000" text-anchor="start" font-size="12.7" letter-spacing="-0.161" >00:00</text>
<text transform="translate(670.5,435) scale(0.87,1)" fill="#000" text-anchor="end" font-size="12.7" letter-spacing="-0.138" >SW</text>
<text transform="translate(670.5,451) scale(0.87,1)" fill="#000" text-anchor="end" font-size="12.7" letter-spacing="-0.161" >- -</text>
<text transform="translate(570,467) scale(0.87,1)" fill="#000" text-anchor="start" font-size="12.7" letter-spacing="-0.138" >225 °</text>
<text transform="translate(670.5,467) scale(0.91,1)" fill="#000" text-anchor="end" font-size="12.7" font-weight="bold" letter-spacing="0.066" >SW</text>
<text transform="translate(684.5,403) scale(0.91,1)" fill="#000" text-anchor="start" font-size="12.7" font-weight="bold" letter-spacing="0.066" >Windböen</text>
<text transform="translate(788.5,403) scale(0.91,1)" fill="#000" text-anchor="end" font-size="12.7" font-weight="bold" letter-spacing="0.604" >km/h</text>
<text transform="translate(684.5,419) scale(0.87,1)" fill="#000" text-anchor="start" font-size="12.7" letter-spacing="-0.517" >Ø 10 min.</text>
<text transform="translate(788.5,419) scale(0.87,1)" fill="#000" text-anchor="end" font-size="12.7" letter-spacing="-0.161" >0.0</text>
<text transform="translate(690.5,435) scale(0.87,1)" fill="#000" text-anchor="start" font-size="12.7" letter-spacing="-0.161" >00:00</text>
<text transform="translate(788.5,435) scale(0.87,1)" fill="#000" text-anchor="end" font-size="12.7" letter-spacing="-0.138" >SW 0.0</text>
<text transform="translate(788.5,451) scale(0.87,1)" fill="#000" text-anchor="end" font-size="12.7" letter-spacing="-0.161" >0.0</text>
<text transform="translate(690.5,467) scale(0.87,1)" fill="#000" text-anchor="start" font-size="12.7" letter-spacing="-0.138" >0 Bft SW</text>
<text transform="translate(788.5,467) scale(1.0,1)" fill="#000" text-anchor="end" font-size="12.7" font-weight="bold" letter-spacing="0.100" >0.0</text>
<text transform="translate(803.9,42) scale(0.68,1)" fill="#ff5050" text-anchor="start" font-size="12.7" letter-spacing="-0.176" >T</text>
</g>
</svg>
</body></html>
